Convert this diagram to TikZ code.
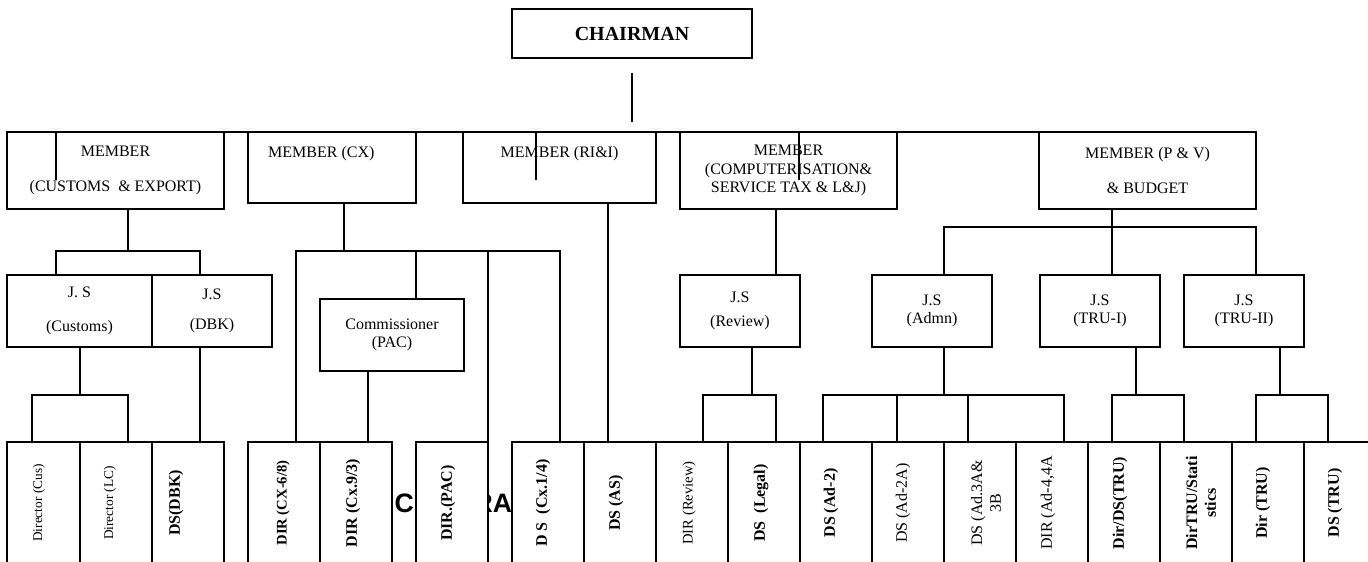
\documentclass[tikz,border=0pt]{standalone}
\usepackage{fontspec}
\setmainfont{Liberation Serif}
\newfontfamily\bannerfont{Liberation Sans}
\usepackage{tikz}
\usetikzlibrary{positioning}

% one box of the chart, given by its corners in pixels
\newcommand\post[7][]{%
  \node[post,#1,minimum width={(#5-#3)*0.75pt},minimum height={(#6-#4)*0.75pt}]
    (#2) at ({(#3+#5)/2},{(#4+#6)/2}) {#7};}

\tikzset{
  chart/.style={x=0.75pt,y=-0.75pt,line width=1pt,font=\fontsize{12}{14}\selectfont},
  post/.style={draw,fill=white,align=center,inner sep=0pt,outer sep=0pt},
  caption/.style={align=center,inner sep=0pt},
  upright/.style={rotate=90,align=center,inner sep=0pt},
  banner/.style={font=\bannerfont\bfseries\fontsize{20}{24}\selectfont,inner sep=0pt,anchor=base west}
}

\begin{document}
\begin{tikzpicture}[chart]
\useasboundingbox (0,0) rectangle (1368,561);
\clip (0,0) rectangle (1368,561);

% letters left showing between the lower boxes
\node[banner] (bn-c) at (394,512) {C};
\node[banner] (bn-ra) at (473,512) {RA};

\post{chair}{512}{9}{752}{58}{\fontsize{15}{18}\selectfont\textbf{CHAIRMAN}}

% members
\post{m1}{7}{132}{224}{209}{MEMBER\\[12pt](CUSTOMS\ \ \& EXPORT)}
\post{m2}{248}{132}{416}{203}{}
\node[caption,below=10.5pt of m2.north,xshift=-8pt] (m2-text) {MEMBER (CX)};
\post{m3}{463}{132}{656}{203}{}
\node[caption,below=10.5pt of m3.north] (m3-text) {MEMBER (RI\&I)};
\post{m4}{680}{132}{897}{209}{MEMBER\\(COMPUTERISATION\&\\SERVICE TAX \& L\&J)}
\post{m5}{1039}{132}{1256}{209}{MEMBER (P \& V)\\[12pt]\& BUDGET}

% joint secretaries
\post{jsc}{7}{275}{152}{347}{J. S\\[12pt](Customs)}
\post{jsd}{152}{275}{272}{347}{J.S\\[8pt](DBK)}
\post{pac}{320}{299}{464}{371}{Commissioner\\(PAC)}
\post{jsr}{680}{275}{800}{347}{J.S\\[4pt](Review)}
\post{jsa}{872}{275}{992}{347}{J.S\\(Admn)}
\post{jst1}{1040}{275}{1160}{347}{J.S\\(TRU-I)}
\post{jst2}{1184}{275}{1304}{347}{J.S\\(TRU-II)}

% directors
\foreach \i/\xl/\xr in {1/7/80, 2/80/152, 3/152/224, 4/248/320, 5/320/392,
  6/416/488, 7/512/584, 8/584/656, 9/656/728, 10/728/800, 11/800/872,
  12/872/944, 13/944/1016, 14/1016/1088, 15/1088/1160, 16/1160/1232,
  17/1232/1304, 18/1304/1376}
  \post{d\i}{\xl}{442}{\xr}{575}{};

\node[upright] (d1-text) at (39,503) {\fontsize{10}{12}\selectfont Director (Cus)};
\node[upright] (d2-text) at (110,503) {\fontsize{10}{12}\selectfont Director (LC)};
\node[upright] (d3-text) at (176,503) {\textbf{DS(DBK)}};
\node[upright] (d4-text) at (283,503) {\fontsize{11}{13}\selectfont\textbf{DIR (CX-6/8)}};
\node[upright] (d5-text) at (353,503) {\textbf{DIR (Cx.9/3)}};
\node[upright] (d6-text) at (448,503) {\textbf{DIR.(PAC)}};
\node[upright] (d7-text) at (543,503) {\textbf{D S \ (Cx.1/4)}};
\node[upright] (d8-text) at (616,503) {\textbf{DS (AS)}};
\node[upright] (d9-text) at (689,503) {\fontsize{11}{13}\selectfont DIR (Review)};
\node[upright] (d10-text) at (761,503) {\textbf{DS \ (Legal)}};
\node[upright] (d11-text) at (831,503) {\textbf{DS (Ad-2)}};
\node[upright] (d12-text) at (903,503) {DS (Ad-2A)};
\node[upright] (d13-text) at (986,503) {DS (Ad.3A\&\\3B};
\node[upright] (d14-text) at (1048,503) {DIR (Ad-4,4A};
\node[upright] (d15-text) at (1120,503) {\textbf{Dir/DS(TRU)}};
\node[upright] (d16-text) at (1201,503) {\textbf{DirTRU/Stati}\\\textbf{stics}};
\node[upright] (d17-text) at (1263,503) {\textbf{Dir (TRU)}};
\node[upright] (d18-text) at (1335,503) {\textbf{DS (TRU)}};

% links
\coordinate (top-a) at (632,73);
\coordinate (top-b) at (632,122);
\draw (top-a) -- (top-b);
\coordinate (hub) at (56,180);
\draw (hub) |- (m5.north west);
\coordinate (stub-b) at (536,180);
\draw (stub-b) -- (stub-b |- m3.north);
\coordinate (stub-c) at (799,180);
\draw (stub-c) -- (stub-c |- m4.north);

% customs
\coordinate (j1) at (128,251);
\coordinate (j1l) at (56,251);
\coordinate (j1r) at (200,251);
\draw (m1.south -| j1) -- (j1);
\draw (jsc.north -| j1l) -- (j1l) -- (j1r) -- (jsd.north -| j1r);
\coordinate (j2) at (80,395);
\coordinate (j2l) at (32,395);
\coordinate (j2r) at (128,395);
\draw (jsc.south -| j2) -- (j2);
\draw (d1.north -| j2l) -- (j2l) -- (j2r) -- (d2.north -| j2r);
\draw (jsd.south -| j1r) -- (d3.north -| j1r);

% cx
\coordinate (j4) at (344,251);
\coordinate (j4l) at (296,251);
\coordinate (j4r) at (560,251);
\coordinate (j4p) at (416,251);
\coordinate (j4q) at (488,251);
\coordinate (j4e) at (488,575);
\draw (m2.south -| j4) -- (j4);
\draw (d4.north -| j4l) -- (j4l) -- (j4r) -- (d7.north -| j4r);
\draw (j4p) -- (pac.north -| j4p);
\draw (j4q) -- (j4e);
\coordinate (j5) at (368,400);
\draw (pac.south -| j5) -- (d5.north -| j5);

% ri&i
\coordinate (j6) at (608,300);
\draw (m3.south -| j6) -- (d8.north -| j6);

% computerisation
\coordinate (j7) at (776,240);
\draw (m4.south -| j7) -- (jsr.north -| j7);
\coordinate (j8) at (752,395);
\coordinate (j8l) at (703,395);
\coordinate (j8r) at (776,395);
\draw (jsr.south -| j8) -- (j8);
\draw (d9.north -| j8l) -- (j8l) -- (j8r) -- (d10.north -| j8r);

% p&v
\coordinate (j9) at (1112,227);
\coordinate (j9l) at (944,227);
\coordinate (j9r) at (1256,227);
\draw (m5.south -| j9) -- (j9);
\draw (jsa.north -| j9l) -- (j9l) -- (j9r) -- (jst2.north -| j9r);
\draw (j9) -- (jst1.north -| j9);
\coordinate (j10) at (944,395);
\coordinate (j10l) at (823,395);
\coordinate (j10r) at (1064,395);
\coordinate (j10a) at (897,395);
\coordinate (j10b) at (968,395);
\draw (jsa.south -| j10) -- (j10);
\draw (d11.north -| j10l) -- (j10l) -- (j10r) -- (d14.north -| j10r);
\draw (j10a) -- (d12.north -| j10a);
\draw (j10b) -- (d13.north -| j10b);
\coordinate (j11) at (1136,395);
\coordinate (j11l) at (1112,395);
\coordinate (j11r) at (1184,395);
\draw (jst1.south -| j11) -- (j11);
\draw (d15.north -| j11l) -- (j11l) -- (j11r) -- (d16.north -| j11r);
\coordinate (j12) at (1280,395);
\coordinate (j12l) at (1256,395);
\coordinate (j12r) at (1328,395);
\draw (jst2.south -| j12) -- (j12);
\draw (d17.north -| j12l) -- (j12l) -- (j12r) -- (d18.north -| j12r);
\end{tikzpicture}
\end{document}
